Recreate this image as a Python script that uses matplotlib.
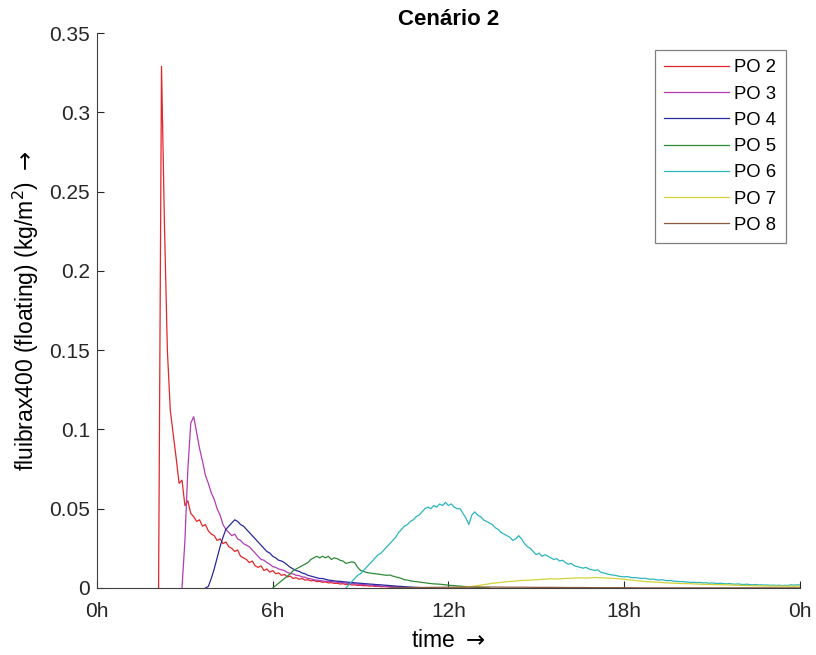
import numpy as np
import matplotlib
matplotlib.use("Agg")
import matplotlib.pyplot as plt

plt.rcParams['font.family'] = ['Liberation Sans', 'DejaVu Sans']

# series: start hour, step (h), values (kg/m2)
labels = ['PO 2', 'PO 3', 'PO 4', 'PO 5', 'PO 6', 'PO 7', 'PO 8']
colors = ['#e3262a', '#b23bb4', '#2a2a9e', '#2e8b35', '#2bb5bd', '#d2d236', '#8b5a3c']

po2_start, po2_step = 2.1, 0.1
po2 = [0, 0.329, 0.230, 0.150, 0.112, 0.097, 0.082, 0.066, 0.068, 0.052,
       0.055, 0.047, 0.045, 0.042, 0.043, 0.039, 0.040, 0.036, 0.034, 0.033,
       0.030, 0.031, 0.028, 0.029, 0.026, 0.025, 0.023, 0.024, 0.020, 0.019,
       0.018, 0.016, 0.017, 0.014, 0.013, 0.014, 0.011, 0.012, 0.010, 0.011,
       0.009, 0.0095, 0.008, 0.0085, 0.007, 0.0075, 0.006, 0.0065, 0.0055, 0.006,
       0.005, 0.0052, 0.0045, 0.0048, 0.004, 0.0042, 0.0036, 0.0038, 0.0032, 0.0034,
       0.0029, 0.003, 0.0025, 0.0027, 0.0022, 0.0023, 0.0019, 0.002, 0.0016, 0.0017,
       0.0014, 0.0015, 0.0012, 0.0013, 0.001, 0.0011, 0.0008, 0.0009, 0.0007, 0.0007,
       0.0005, 0.0006, 0.0004, 0.0004, 0.0003, 0.0003, 0.0002, 0.0002, 0.0001, 0.0001, 0]

po3_start, po3_step = 2.9, 0.1
po3 = [0, 0.030, 0.075, 0.104, 0.108, 0.098, 0.088, 0.080, 0.071, 0.066,
       0.060, 0.056, 0.050, 0.046, 0.040, 0.037, 0.035, 0.033, 0.034, 0.031,
       0.030, 0.028, 0.027, 0.026, 0.024, 0.022, 0.020, 0.018, 0.0175, 0.016,
       0.015, 0.0135, 0.013, 0.012, 0.0115, 0.011, 0.0098, 0.0092, 0.0088, 0.008,
       0.0078, 0.007, 0.0068, 0.006, 0.0058, 0.0052, 0.005, 0.0047, 0.0045, 0.0042,
       0.0043, 0.004, 0.0038, 0.0036, 0.0034, 0.0033, 0.003, 0.0029, 0.0027, 0.0026,
       0.0024, 0.0023, 0.0021, 0.002, 0.0018, 0.0017, 0.0015, 0.0014, 0.0012, 0.0011,
       0.001, 0.0009, 0.0008, 0.0007, 0.0006, 0.0005, 0.0004, 0.0003, 0.0002, 0.0001, 0]

po4_start, po4_step = 3.7, 0.1
po4 = [0, 0.001, 0.006, 0.012, 0.019, 0.026, 0.032, 0.037, 0.039, 0.041,
       0.043, 0.042, 0.040, 0.039, 0.037, 0.035, 0.033, 0.031, 0.029, 0.027,
       0.025, 0.023, 0.022, 0.020, 0.019, 0.0175, 0.017, 0.016, 0.0145, 0.013,
       0.012, 0.011, 0.0105, 0.0095, 0.009, 0.008, 0.0075, 0.007, 0.0065, 0.006,
       0.006, 0.0055, 0.005, 0.0048, 0.0045, 0.0043, 0.0042, 0.004, 0.0038, 0.0036,
       0.0034, 0.0033, 0.0031, 0.003, 0.0028, 0.0027, 0.0025, 0.0024, 0.0022, 0.0021,
       0.002, 0.0018, 0.0017, 0.0015, 0.0014, 0.0012, 0.0011, 0.001, 0.0008, 0.0007,
       0.0006, 0.0005, 0.0004, 0.0003, 0.0002, 0.0001, 0]

po5_start, po5_step = 6.0, 0.1
po5 = [0, 0.0015, 0.003, 0.0045, 0.006, 0.0075, 0.009, 0.011, 0.012, 0.013,
       0.014, 0.015, 0.016, 0.018, 0.019, 0.020, 0.019, 0.020, 0.019, 0.020,
       0.018, 0.019, 0.0185, 0.0175, 0.017, 0.0155, 0.016, 0.0165, 0.016, 0.013,
       0.011, 0.0105, 0.0098, 0.0095, 0.0092, 0.009, 0.0088, 0.0085, 0.0082, 0.008,
       0.0082, 0.0075, 0.007, 0.0065, 0.006, 0.0052, 0.005, 0.0045, 0.0042, 0.004,
       0.0038, 0.0035, 0.0033, 0.003, 0.0028, 0.0026, 0.0025, 0.0024, 0.0022, 0.002,
       0.0018, 0.0016, 0.0015, 0.0013, 0.0012, 0.001, 0.0009, 0.0008, 0.0006, 0.0005,
       0.0004, 0.0003, 0.0002, 0.0001, 0]

po6_start, po6_step = 8.5, 0.1
po6 = [0, 0.002, 0.004, 0.006, 0.008, 0.009, 0.011, 0.013, 0.015, 0.017,
       0.019, 0.021, 0.022, 0.024, 0.026, 0.028, 0.030, 0.032, 0.035, 0.037,
       0.039, 0.040, 0.042, 0.043, 0.045, 0.046, 0.048, 0.050, 0.051, 0.050,
       0.052, 0.051, 0.053, 0.052, 0.054, 0.052, 0.053, 0.051, 0.050, 0.050,
       0.047, 0.044, 0.040, 0.046, 0.048, 0.046, 0.045, 0.043, 0.042, 0.041,
       0.040, 0.038, 0.037, 0.035, 0.034, 0.033, 0.032, 0.030, 0.031, 0.033,
       0.031, 0.028, 0.026, 0.025, 0.023, 0.021, 0.022, 0.020, 0.021, 0.020,
       0.019, 0.018, 0.0185, 0.017, 0.0175, 0.016, 0.015, 0.0155, 0.014, 0.0135,
       0.013, 0.0125, 0.013, 0.012, 0.0115, 0.011, 0.0115, 0.010, 0.0095, 0.009,
       0.0085, 0.0082, 0.008, 0.0075, 0.0072, 0.007, 0.0072, 0.0068, 0.0065, 0.0066,
       0.0062, 0.006, 0.0062, 0.0058, 0.0055, 0.0056, 0.0052, 0.005, 0.0052, 0.0048,
       0.0046, 0.0047, 0.0043, 0.0042, 0.004, 0.0041, 0.0038, 0.0037, 0.0035, 0.0036,
       0.0034, 0.0035, 0.0032, 0.0033, 0.003, 0.0032, 0.003, 0.0028, 0.003, 0.0027,
       0.0026, 0.0028, 0.0025, 0.0024, 0.0026, 0.0023, 0.0022, 0.0024, 0.0021, 0.002,
       0.0022, 0.0019, 0.002, 0.0018, 0.0019, 0.0017, 0.0018, 0.0016, 0.0018, 0.0015,
       0.0017, 0.0016, 0.002, 0.0018, 0.002, 0.0019]

po7_start, po7_step = 12.0, 0.25
po7 = [0, 0.0002, 0.0005, 0.0009, 0.0015, 0.0022, 0.003, 0.0034, 0.004, 0.0043,
       0.0048, 0.0049, 0.0052, 0.0055, 0.0058, 0.0057, 0.006, 0.0062, 0.0064, 0.0063,
       0.0066, 0.0064, 0.0062, 0.0059, 0.0055, 0.005, 0.0045, 0.0041, 0.0038, 0.0035,
       0.0032, 0.003, 0.0028, 0.0027, 0.0025, 0.0023, 0.0022, 0.0021, 0.002, 0.0018,
       0.0016, 0.0015, 0.0014, 0.0013, 0.0012, 0.0012, 0.0012, 0.0011, 0.0012]

po8_start, po8_step = 10.0, 0.5
po8 = [0, 0.0002, 0.0003, 0.0004, 0.0005, 0.0005, 0.0006, 0.0006, 0.0005, 0.0005,
       0.0004, 0.0004, 0.0003, 0.0003, 0.0002, 0.0002, 0.0002, 0.0001, 0.0001, 0.0001,
       0.0001, 0.0001, 0.0001, 0.0001, 0.0001, 0.0001, 0.0001, 0.0001, 0.0001]

series = [(po2_start, po2_step, po2), (po3_start, po3_step, po3),
          (po4_start, po4_step, po4), (po5_start, po5_step, po5),
          (po6_start, po6_step, po6), (po7_start, po7_step, po7),
          (po8_start, po8_step, po8)]

xticks = [0, 6, 12, 18, 24]
xticklabels = ['0h', '6h', '12h', '18h', '0h']
yticks = [0, 0.05, 0.1, 0.15, 0.2, 0.25, 0.3, 0.35]
yticklabels = ['0', '0.05', '0.1', '0.15', '0.2', '0.25', '0.3', '0.35']

fig = plt.figure(figsize=(8.16, 6.55), dpi=100)
ax = fig.add_axes([0.119, 0.1023, 0.861, 0.8473])

for (start, step, vals), lab, c in zip(series, labels, colors):
    t = start + step * np.arange(len(vals))
    ax.plot(t, vals, color=c, lw=0.9, label=lab)

ax.set_xlim(0, 24)
ax.set_ylim(0, 0.35)
ax.set_xticks(xticks)
ax.set_xticklabels(xticklabels)
ax.set_yticks(yticks)
ax.set_yticklabels(yticklabels)
ax.tick_params(direction='in', length=5, width=0.8, labelsize=15,
               colors='#262626')
ax.tick_params(axis='x', pad=10)
ax.tick_params(axis='y', pad=5)
ax.spines['top'].set_visible(False)
ax.spines['right'].set_visible(False)
ax.spines['left'].set_color('#404040')
ax.spines['bottom'].set_color('#404040')

ax.set_xlabel(r'time $\rightarrow$', fontsize=16.5, labelpad=6)
ax.set_ylabel(r'fluibrax400 (floating) (kg/m$^2$) $\rightarrow$', fontsize=16.5, labelpad=6)
ax.set_title('Cenário 2', fontsize=16, fontweight='bold', pad=6)

leg = ax.legend(loc='upper right', bbox_to_anchor=(0.980, 0.969), borderaxespad=0,
                fontsize=13.3, handlelength=3.5, handletextpad=0.3, labelspacing=0.5,
                borderpad=0.5, fancybox=False, framealpha=1, edgecolor='#808080')
leg.get_frame().set_linewidth(0.9)

fig.savefig('out.png', dpi=100)
